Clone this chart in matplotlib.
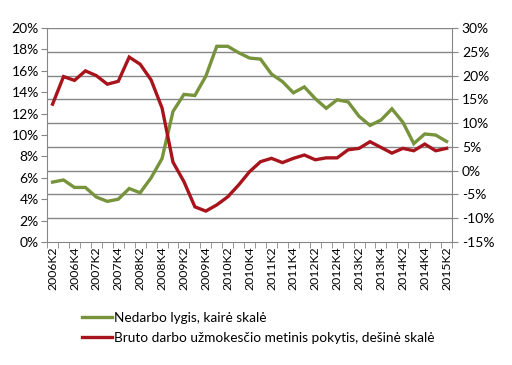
import matplotlib
matplotlib.use("Agg")
import matplotlib.pyplot as plt
import numpy as np

plt.rcParams['font.family'] = ['Lato', 'DejaVu Sans']

quarters = [f"{y}K{q}" for y in range(2006, 2016) for q in range(1, 5)]
quarters = quarters[quarters.index("2006K2"):quarters.index("2015K2") + 1]

unemployment = [5.6, 5.8, 5.1, 5.1, 4.2, 3.8, 4.0, 5.0, 4.6, 6.0, 7.8, 12.2,
                13.8, 13.7, 15.5, 18.3, 18.3, 17.7, 17.2, 17.1, 15.7, 15.0,
                13.95, 14.5, 13.4, 12.5, 13.3, 13.1, 11.75, 10.9, 11.4, 12.45,
                11.2, 9.2, 10.1, 10.0, 9.4]
wage_change = [14.0, 19.8, 19.0, 21.0, 20.0, 18.2, 18.8, 23.9, 22.4, 19.1, 13.2,
               1.8, -2.3, -7.6, -8.5, -7.2, -5.5, -3.0, -0.2, 1.9, 2.6, 1.7,
               2.6, 3.3, 2.3, 2.7, 2.7, 4.4, 4.7, 6.1, 4.9, 3.7, 4.7, 4.2,
               5.6, 4.2, 4.7]

left_ticks = list(range(0, 21, 2))
right_ticks = list(range(-15, 31, 5))

label_green = "Nedarbo lygis, kairė skalė"
label_red = "Bruto darbo užmokesčio metinis pokytis, dešinė skalė"

green = "#77933C"
red = "#A8141C"
gray = "#868686"

fig = plt.figure(figsize=(5.12, 3.65), dpi=100)
ax = fig.add_axes([0.092, 0.337, 0.791, 0.586])
ax2 = ax.twinx()

x = np.arange(len(quarters))
ax.set_xlim(-0.5, len(quarters) - 0.5)
ax.set_ylim(left_ticks[0], left_ticks[-1])
ax2.set_ylim(right_ticks[0], right_ticks[-1])

# gridlines follow the right axis
l0, l1 = left_ticks[0], left_ticks[-1]
r0, r1 = right_ticks[0], right_ticks[-1]
for r in right_ticks[1:]:
    lv = (r - r0) / (r1 - r0) * (l1 - l0) + l0
    ax.axhline(lv, color=gray, lw=1.0, zorder=0)

l_g, = ax.plot(x, unemployment, color=green, lw=2.4, zorder=3, solid_joinstyle='miter')
l_r, = ax2.plot(x, wage_change, color=red, lw=2.4, zorder=3, solid_joinstyle='miter')

ax.set_yticks(left_ticks)
ax.set_yticklabels([f"{v}%" for v in left_ticks])
ax2.set_yticks(right_ticks)
ax2.set_yticklabels([f"{v}%" for v in right_ticks])

ax.set_xticks(np.arange(-0.5, len(quarters), 1.0), minor=True)
ax.set_xticks(x[::2])
ax.set_xticklabels(quarters[::2], rotation=90)
ax.tick_params(axis='x', which='major', length=0, labelsize=8.8, pad=3)
ax.tick_params(axis='x', which='minor', length=4, color=gray, direction='out')
ax.tick_params(axis='y', labelsize=10, length=4, color=gray, pad=2)
ax2.tick_params(axis='y', labelsize=10, length=4, color=gray, pad=3)

for a in (ax, ax2):
    for s in a.spines.values():
        s.set_visible(False)
ax.spines['left'].set_visible(True)
ax.spines['left'].set_color(gray)
ax.spines['bottom'].set_visible(True)
ax.spines['bottom'].set_color(gray)
ax2.spines['right'].set_visible(True)
ax2.spines['right'].set_color(gray)

fig.legend([l_g, l_r], [label_green, label_red], loc='upper left',
           bbox_to_anchor=(0.15, 0.16), frameon=False, fontsize=9.8,
           handlelength=2.2, handletextpad=0.1, labelspacing=0.55,
           borderaxespad=0)

fig.savefig("out.png", dpi=100)
